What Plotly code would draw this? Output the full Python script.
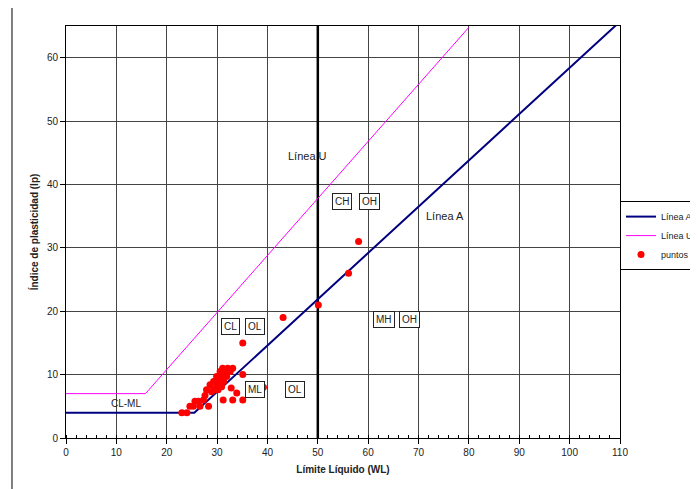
import plotly.graph_objects as go

# Data
lineA_x = [0, 25.48, 110]
lineA_y = [4, 4, 65.7]
lineU_x = [0, 15.78, 80]
lineU_y = [7, 7, 64.8]
wl50_x = [50, 50]
wl50_y = [0, 65]
puntos_wl = [23.0, 24.0, 24.6, 25.3, 25.6, 26.3, 26.6, 27.3, 27.6, 28.3, 27.9, 28.9, 29.3,
             29.9, 30.2, 30.9, 29.3, 30.3, 31.3, 29.9, 30.9, 31.9, 30.6, 31.6, 32.6,
             31.1, 32.1, 33.1, 35.1, 32.8, 33.9, 31.2, 33.1, 35.1, 35.1, 39.2, 43.1,
             50.1, 56.1, 58.1, 28.6, 31.2]
puntos_ip = [4.0, 4.0, 5.0, 5.0, 5.8, 5.8, 5.0, 6.0, 6.7, 5.0, 7.6, 7.3, 7.6,
             8.1, 7.6, 8.1, 8.9, 8.9, 8.9, 9.7, 9.7, 9.7, 10.5, 10.5, 10.5,
             11.0, 11.0, 11.0, 10.0, 7.9, 7.1, 6.0, 6.0, 6.0, 15.0, 8.0, 19.0,
             21.0, 26.0, 31.0, 8.4, 10.0]

font_family = "Liberation Sans, Arial, sans-serif"

fig = go.Figure()
fig.add_trace(go.Scatter(x=wl50_x, y=wl50_y, mode="lines",
                         line=dict(color="black", width=2.5), showlegend=False,
                         hoverinfo="skip"))
fig.add_trace(go.Scatter(x=lineA_x, y=lineA_y, mode="lines", name="Línea A",
                         line=dict(color="#000080", width=2)))
fig.add_trace(go.Scatter(x=lineU_x, y=lineU_y, mode="lines", name="Línea U",
                         line=dict(color="#FF00FF", width=1)))
fig.add_trace(go.Scatter(x=puntos_wl, y=puntos_ip, mode="markers", name="puntos",
                         marker=dict(color="#FF0000", size=7)))

boxed = [("CH", 54.8, 37.3), ("OH", 60.2, 37.3), ("MH", 63.2, 18.7), ("OH", 68.2, 18.7),
         ("CL", 32.6, 17.6), ("OL", 37.6, 17.6), ("ML", 37.6, 7.6), ("OL", 45.4, 7.6)]
for t, x, y in boxed:
    fig.add_annotation(x=x, y=y, text=t, showarrow=False,
                       font=dict(family=font_family, size=10, color="#222"),
                       bordercolor="#222", borderwidth=1, borderpad=2, bgcolor="white")
for t, x, y in [("Línea U", 48, 44.5), ("Línea A", 75.3, 35), ("CL-ML", 12, 5.4)]:
    fig.add_annotation(x=x, y=y, text=t, showarrow=False,
                       font=dict(family=font_family, size=11 if t != "CL-ML" else 10, color="#222"))

# outer chart-area border (left & top)
fig.add_shape(type="line", xref="paper", yref="paper", x0=-0.0975, x1=-0.0975, y0=-0.2, y1=1.051,
              line=dict(color="black", width=1))
fig.add_shape(type="line", xref="paper", yref="paper", x0=-0.0975, x1=1.2, y0=1.051, y1=1.051,
              line=dict(color="black", width=1))

fig.update_layout(
    width=690, height=481,
    margin=dict(l=58, r=78, t=18, b=51, autoexpand=False),
    paper_bgcolor="white", plot_bgcolor="white",
    font=dict(family=font_family, size=10, color="#222"),
    showlegend=True,
    legend=dict(x=1.0, y=0.575, xanchor="left", yanchor="top",
                bordercolor="black", borderwidth=1, bgcolor="white",
                font=dict(size=9, color="#222"), tracegroupgap=0,
                itemwidth=30),
    xaxis=dict(range=[0, 110], dtick=10, showgrid=True, gridcolor="#444", gridwidth=1,
               showline=True, linecolor="black", linewidth=1, mirror=True,
               ticks="outside", ticklen=5, tickcolor="black", zeroline=False,
               automargin=False,
               minor=dict(dtick=2, ticks="inside", ticklen=3, tickcolor="black", showgrid=False),
               title=dict(text="<b>Límite Líquido (WL)</b>", font=dict(size=10), standoff=8),
               tickfont=dict(size=10)),
    yaxis=dict(range=[0, 65], dtick=10, showgrid=True, gridcolor="#444", gridwidth=1,
               showline=True, linecolor="black", linewidth=1, mirror=True,
               ticks="outside", ticklen=5, tickcolor="black", zeroline=False,
               automargin=False,
               title=dict(text="<b>Índice de plasticidad (Ip)</b>", font=dict(size=10), standoff=6),
               tickfont=dict(size=10)),
)

fig.write_html("out.html")
